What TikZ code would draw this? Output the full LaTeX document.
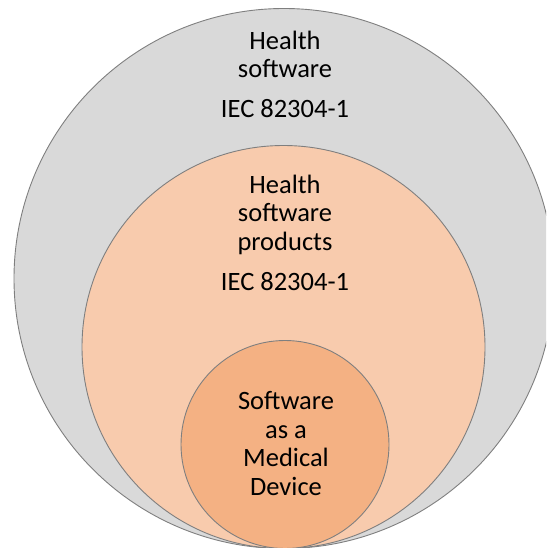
\documentclass[tikz,border=0pt]{standalone}
\usepackage{fontspec}
\setmainfont{Carlito}
\definecolor{swgray}{HTML}{D9D9D9}
\definecolor{swpeach}{HTML}{F8CBAD}
\definecolor{sworange}{HTML}{F4B183}
\definecolor{swline}{HTML}{7F7F7F}
\begin{document}
\begin{tikzpicture}[x=1pt,y=-1pt,line join=round,
  ring/.style={circle,draw=swline,line width=0.9pt,inner sep=0pt,outer sep=0pt},
  lbl/.style={align=center,anchor=base,inner sep=0pt,font=\fontsize{26.5}{28.5}\selectfont}]
\useasboundingbox (0,0) rectangle (546,548);
\clip (0,0) rectangle (546,548);
% nested sets, all touching at the bottom
\node[ring,fill=swgray,minimum size=540pt] (outer) at (284,278.5) {};
\node[ring,fill=swpeach,minimum size=403pt] (middle) at (283.5,347) {};
\node[ring,fill=sworange,minimum size=208pt] (inner) at (285,444.5) {};
% labels (anchored at the baseline of their last line)
\node[lbl] (hs) at (285,78) {Health\\software};
\node[lbl] (hsstd) at (285,118) {IEC 82304-1};
\node[lbl] (hsp) at (285,250) {Health\\software\\products};
\node[lbl] (hspstd) at (285,290) {IEC 82304-1};
\node[lbl] (samd) at (286,495) {Software\\as a\\Medical\\Device};
\end{tikzpicture}
\end{document}
